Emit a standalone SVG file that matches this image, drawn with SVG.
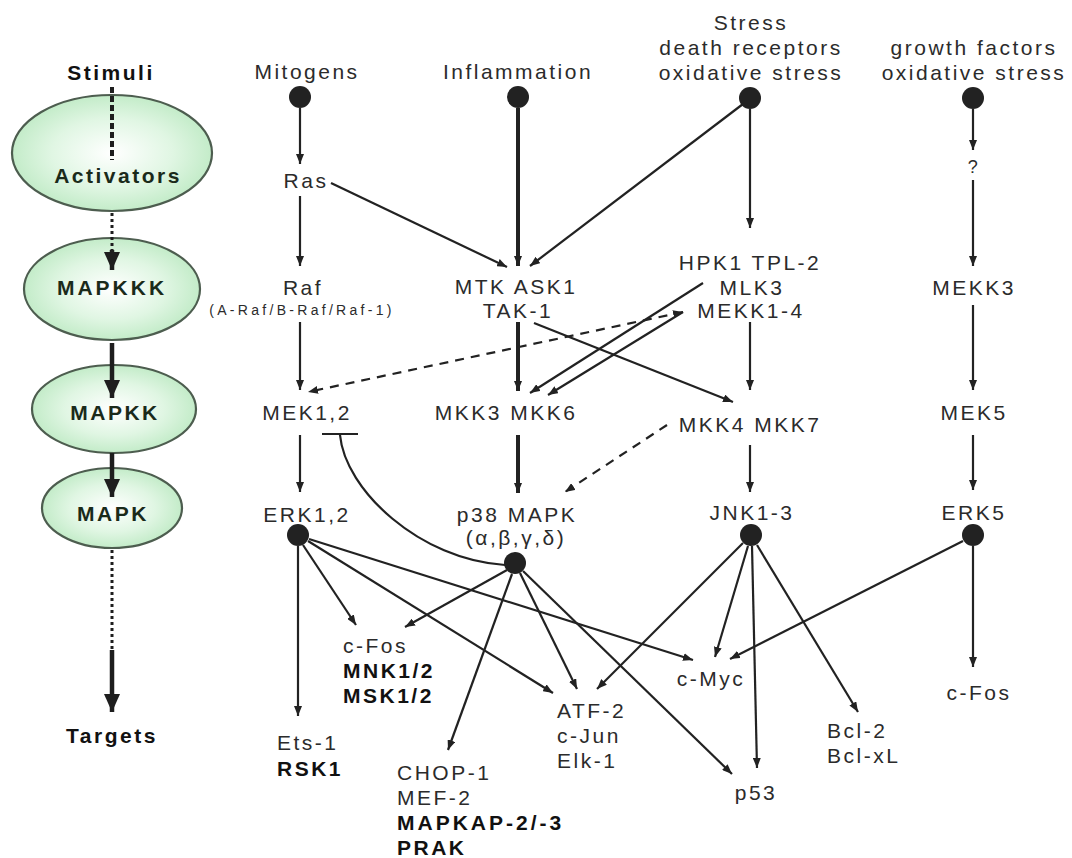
<svg xmlns="http://www.w3.org/2000/svg" width="1072" height="858" viewBox="0 0 1072 858">
<defs>
<radialGradient id="eg" cx="50%" cy="50%" r="55%">
<stop offset="0" stop-color="#ffffff"/>
<stop offset="0.55" stop-color="#e0f6e3"/>
<stop offset="1" stop-color="#bce9c2"/>
</radialGradient>
<marker id="ah" viewBox="0 0 10 8" refX="10" refY="4" markerWidth="10" markerHeight="8" markerUnits="userSpaceOnUse" orient="auto-start-reverse">
<path d="M0,0 L10,4 L0,8 Z" fill="#222"/>
</marker>
<marker id="ahb" viewBox="0 0 18 16" refX="18" refY="8" markerWidth="18" markerHeight="16" markerUnits="userSpaceOnUse" orient="auto">
<path d="M0,0 L18,8 L0,16 Z" fill="#1e1e1e"/>
</marker>
<style>
.t{font-family:"Liberation Sans",Arial,sans-serif;font-size:21px;letter-spacing:2.5px;fill:#2b2b2b}
.m{text-anchor:middle}
.b{font-weight:bold;fill:#111}
.g{fill:#1a2a1a}
.sm{font-size:14px;letter-spacing:3.3px}
.ls3{letter-spacing:3px}
.ell{fill:url(#eg);stroke:#4d5d4f;stroke-width:2.2}
.dot{fill:#222}
.c{fill:none;stroke:#222;stroke-width:2.2}
.a{marker-end:url(#ah)}
.th{stroke-width:4}
.ds{stroke-dasharray:9,7}
.lg{stroke:#1e1e1e;fill:none}
.lgdash{stroke-width:4;stroke-dasharray:6,3}
.lgdot{stroke-width:3;stroke-dasharray:3,3}
.lgsol{stroke-width:4.5}
</style>
</defs>
<rect width="1072" height="858" fill="#ffffff"/>

<g id="legend">
<ellipse class="ell" cx="112" cy="153" rx="100" ry="58"/>
<ellipse class="ell" cx="112" cy="289" rx="88" ry="51"/>
<ellipse class="ell" cx="114" cy="409" rx="82" ry="44"/>
<ellipse class="ell" cx="112" cy="508" rx="70" ry="40"/>
<line class="lg lgdash" x1="112" y1="87" x2="112" y2="160"/>
<line class="lg lgdot" x1="112" y1="213" x2="112" y2="252"/>
<line class="lg lgsol" x1="112" y1="250" x2="112" y2="270" marker-end="url(#ahb)"/>
<line class="lg lgsol" x1="112" y1="343" x2="112" y2="398" marker-end="url(#ahb)"/>
<line class="lg lgsol" x1="112" y1="453" x2="112" y2="497" marker-end="url(#ahb)"/>
<line class="lg lgdot" x1="112" y1="550" x2="112" y2="650"/>
<line class="lg lgsol" x1="112" y1="650" x2="112" y2="712" marker-end="url(#ahb)"/>
<text class="t m b" x="111" y="80">Stimuli</text>
<text class="t m b g" x="118" y="183">Activators</text>
<text class="t m b g ls3" x="112" y="295">MAPKKK</text>
<text class="t m b g" x="115" y="420">MAPKK</text>
<text class="t m b g" x="113" y="521">MAPK</text>
<text class="t m b" x="112" y="743">Targets</text>
</g>

<g id="connectors">
<line class="c a" x1="300" y1="108" x2="300" y2="164"/>
<line class="c a" x1="300" y1="196" x2="300" y2="266"/>
<line class="c a" x1="331" y1="183" x2="507" y2="267"/>
<line class="c a th" x1="518" y1="108" x2="518" y2="266"/>
<line class="c a" x1="743" y1="104" x2="530" y2="266"/>
<line class="c a" x1="750" y1="109" x2="750" y2="228"/>
<line class="c a" x1="973" y1="109" x2="973" y2="150"/>
<line class="c a" x1="973" y1="180" x2="973" y2="266"/>
<line class="c a" x1="300" y1="322" x2="300" y2="390"/>
<line class="c a th" x1="518" y1="322" x2="518" y2="391"/>
<line class="c a" x1="534" y1="323" x2="733" y2="402"/>
<line class="c a" x1="703" y1="283" x2="530" y2="393"/>
<line class="c a" x1="683" y1="312" x2="548" y2="395"/>
<line class="c ds" x1="683" y1="312" x2="308" y2="392" marker-start="url(#ah)" marker-end="url(#ah)"/>
<line class="c a" x1="750" y1="322" x2="750" y2="390"/>
<line class="c a th" x1="518" y1="435" x2="518" y2="493"/>
<line class="c a ds" x1="667" y1="425" x2="565" y2="492"/>
<line class="c a" x1="300" y1="435" x2="300" y2="492"/>
<line class="c" x1="322" y1="434" x2="358" y2="434"/>
<path class="c" d="M340,435 C345,490 420,560 505,565"/>
<line class="c a" x1="750" y1="445" x2="750" y2="492"/>
<line class="c a" x1="973" y1="305" x2="973" y2="390"/>
<line class="c a" x1="973" y1="435" x2="973" y2="490"/>
<line class="c a" x1="298" y1="546" x2="298" y2="716"/>
<line class="c a" x1="303" y1="545" x2="356" y2="625"/>
<line class="c a" x1="308" y1="541" x2="553" y2="693"/>
<line class="c a" x1="309" y1="539" x2="693" y2="660"/>
<line class="c a" x1="507" y1="570" x2="405" y2="627"/>
<line class="c a" x1="512" y1="574" x2="448" y2="750"/>
<line class="c a" x1="520" y1="573" x2="577" y2="689"/>
<line class="c a" x1="523" y1="571" x2="732" y2="774"/>
<line class="c a" x1="743" y1="543" x2="597" y2="689"/>
<line class="c a" x1="748" y1="546" x2="715" y2="657"/>
<line class="c a" x1="752" y1="546" x2="757" y2="768"/>
<line class="c a" x1="757" y1="545" x2="858" y2="712"/>
<line class="c a" x1="963" y1="541" x2="730" y2="659"/>
<line class="c a" x1="973" y1="546" x2="973" y2="667"/>
</g>

<g id="mitogens"><text class="t m" x="307" y="79">Mitogens</text><circle class="dot" cx="300" cy="97" r="11"/></g>
<g id="inflammation"><text class="t m" x="518" y="79">Inflammation</text><circle class="dot" cx="518" cy="97" r="11"/></g>
<g id="stress"><text class="t m" x="751" y="30">Stress</text><text class="t m" x="751" y="55">death receptors</text><text class="t m" x="751" y="80">oxidative stress</text><circle class="dot" cx="750" cy="98" r="11"/></g>
<g id="growth"><text class="t m" x="974" y="55">growth factors</text><text class="t m" x="974" y="80">oxidative stress</text><circle class="dot" cx="973" cy="98" r="11"/></g>
<g id="ras"><text class="t m" x="306" y="188">Ras</text></g>
<g id="unknown"><text class="t m" x="974" y="173" style="font-size:18px">?</text></g>
<g id="raf"><text class="t m" x="303" y="295">Raf</text><text class="t m sm" x="302" y="315">(A-Raf/B-Raf/Raf-1)</text></g>
<g id="mtk"><text class="t m" x="516" y="294">MTK  ASK1</text><text class="t m" x="518" y="318">TAK-1</text></g>
<g id="hpk"><text class="t m" x="750" y="270">HPK1 TPL-2</text><text class="t m" x="752" y="295">MLK3</text><text class="t m" x="751" y="318">MEKK1-4</text></g>
<g id="mekk3"><text class="t m" x="974" y="295">MEKK3</text></g>
<g id="mek12"><text class="t m" x="307" y="420">MEK1,2</text></g>
<g id="mkk36"><text class="t m" x="506" y="420">MKK3 MKK6</text></g>
<g id="mkk47"><text class="t m" x="750" y="432">MKK4 MKK7</text></g>
<g id="mek5"><text class="t m" x="974" y="420">MEK5</text></g>
<g id="erk12"><text class="t m" x="307" y="522">ERK1,2</text><circle class="dot" cx="298" cy="535" r="11"/></g>
<g id="p38"><text class="t m" x="517" y="522">p38 MAPK</text><text class="t m" x="516" y="545">(α,β,γ,δ)</text><circle class="dot" cx="515" cy="563" r="11"/></g>
<g id="jnk"><text class="t m" x="752" y="520">JNK1-3</text><circle class="dot" cx="751" cy="535" r="11"/></g>
<g id="erk5"><text class="t m" x="974" y="520">ERK5</text><circle class="dot" cx="973" cy="535" r="11"/></g>
<g id="cfos1"><text class="t" x="343" y="653">c-Fos</text><text class="t b" x="343" y="678">MNK1/2</text><text class="t b" x="343" y="703">MSK1/2</text></g>
<g id="ets"><text class="t" x="277" y="750">Ets-1</text><text class="t b" x="277" y="776">RSK1</text></g>
<g id="chop"><text class="t" x="397" y="780">CHOP-1</text><text class="t" x="397" y="805">MEF-2</text><text class="t b ls3" x="397" y="830">MAPKAP-2/-3</text><text class="t b" x="397" y="855">PRAK</text></g>
<g id="atf2"><text class="t" x="557" y="718">ATF-2</text><text class="t" x="557" y="743">c-Jun</text><text class="t" x="557" y="768">Elk-1</text></g>
<g id="cmyc"><text class="t m" x="711" y="686">c-Myc</text></g>
<g id="p53"><text class="t m" x="756" y="800">p53</text></g>
<g id="bcl"><text class="t" x="827" y="738">Bcl-2</text><text class="t" x="827" y="763">Bcl-xL</text></g>
<g id="cfos2"><text class="t m" x="979" y="700">c-Fos</text></g>
</svg>
